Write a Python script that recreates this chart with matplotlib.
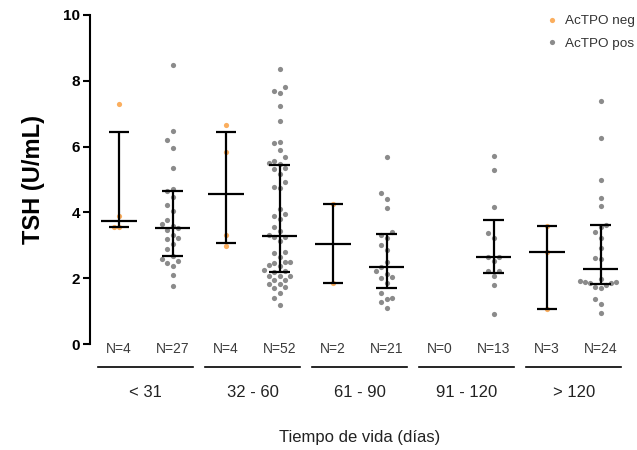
import numpy as np
import matplotlib
matplotlib.use("Agg")
import matplotlib.pyplot as plt
from matplotlib.lines import Line2D

plt.rcParams['font.family'] = ['Liberation Sans', 'DejaVu Sans']

# ---- data -----------------------------------------------------------------
age_groups = ["< 31", "32 - 60", "61 - 90", "91 - 120", "> 120"]
series_labels = ["AcTPO neg", "AcTPO pos"]

tsh_neg = [
    [7.30, 3.90, 3.55, 3.55],
    [6.65, 5.83, 3.30, 2.98],
    [4.25, 1.84],
    [],
    [3.59, 2.79, 1.07],
]

tsh_pos = [
    [8.48, 6.46, 6.20, 5.97, 5.36, 4.72, 4.66, 4.47, 4.21, 4.04, 3.77, 3.64,
     3.60, 3.53, 3.45, 3.31, 3.23, 3.20, 3.05, 2.89, 2.66, 2.58, 2.52, 2.46,
     2.38, 2.10, 1.75],
    [8.35, 7.80, 7.70, 7.62, 7.24, 6.78, 6.15, 6.12, 5.90, 5.69, 5.56, 5.49,
     5.47, 5.35, 5.31, 5.16, 4.91, 4.77, 4.73, 4.10, 3.94, 3.90, 3.80, 3.57,
     3.43, 3.30, 3.26, 3.24, 3.13, 2.80, 2.78, 2.65, 2.50, 2.48, 2.46, 2.39,
     2.37, 2.25, 2.22, 2.18, 2.08, 2.07, 2.06, 1.96, 1.94, 1.83, 1.81, 1.72,
     1.70, 1.54, 1.40, 1.19],
    [5.67, 4.58, 4.42, 4.12, 3.40, 3.30, 3.22, 3.00, 2.86, 2.50, 2.33, 2.22,
     2.12, 2.03, 2.00, 1.85, 1.55, 1.40, 1.36, 1.28, 1.08],
    [5.72, 5.28, 4.17, 3.38, 3.21, 2.65, 2.65, 2.53, 2.23, 2.23, 2.08, 1.79,
     0.90],
    [7.39, 6.27, 5.00, 4.43, 4.19, 3.62, 3.55, 3.41, 3.22, 2.93, 2.62, 2.58,
     1.97, 1.92, 1.89, 1.88, 1.86, 1.84, 1.80, 1.74, 1.70, 1.36, 1.22, 0.95],
]

color_neg = "#FBA54C"
color_pos = "#7F7F7F"

# ---- figure ---------------------------------------------------------------
W, H, DPI = 637, 450, 100
fig = plt.figure(figsize=(W / DPI, H / DPI), dpi=DPI)
ax = fig.add_axes([90 / W, 106 / H, 540 / W, 329 / H])
ax.set_xlim(-0.542, 9.55)
ax.set_ylim(0, 10)

for side in ("top", "right", "bottom"):
    ax.spines[side].set_visible(False)
ax.spines["left"].set_linewidth(1.5)
ax.set_xticks([])
ax.set_yticks(np.arange(0, 11, 2))
ax.tick_params(axis="y", length=5, width=1.5, labelsize=11, pad=2)
for lab in ax.get_yticklabels():
    lab.set_fontweight("bold")
ax.set_ylabel("TSH (U/mL)", fontsize=17, fontweight="bold")
ax.yaxis.set_label_coords(-0.083, 0.5)

MARKER_D = 5.2  # marker diameter in pixels


def swarm_offsets(x_center, values, d=MARKER_D):
    """Greedy scatter spreading in display space; returns x offsets in data units."""
    if len(values) == 0:
        return np.array([])
    pts = ax.transData.transform(np.column_stack([np.full(len(values), x_center), values]))
    ypx = pts[:, 1]
    step = d / 2.0
    reach_y = 1.5 * d
    placed = []
    offs_px = np.zeros(len(values))
    for i in np.argsort(ypx):
        y = ypx[i]
        k = 0
        while True:
            cands = [0.0] if k == 0 else [k * step, -k * step]
            if k % 2 == 0 and k > 0:
                cands = cands[::-1]
            done = False
            for c in cands:
                if all(abs(c - px) >= 0.98 * d or abs(y - py) >= reach_y for px, py in placed):
                    offs_px[i] = c
                    placed.append((c, y))
                    done = True
                    break
            if done:
                break
            k += 1
    x0 = ax.transData.transform((x_center, 0))[0]
    back = ax.transData.inverted()
    return np.array([back.transform((x0 + o, 0))[0] - x_center for o in offs_px])


def draw_summary(x, values):
    q1, med, q3 = np.percentile(values, [25, 50, 75], method="weibull")
    kw = dict(color="black", lw=1.6, zorder=4, solid_capstyle="butt")
    ax.plot([x, x], [q1, q3], **kw)
    ax.plot([x - 0.19, x + 0.19], [q1, q1], **kw)
    ax.plot([x - 0.19, x + 0.19], [q3, q3], **kw)
    ax.plot([x - 0.33, x + 0.33], [med, med], **kw)


msize = (MARKER_D * 72 / DPI) ** 2
xtr = ax.get_xaxis_transform()

for g, label in enumerate(age_groups):
    for j, (vals, col) in enumerate(((tsh_neg[g], color_neg), (tsh_pos[g], color_pos))):
        x = 2 * g + j
        v = np.asarray(vals, dtype=float)
        if len(v):
            off = swarm_offsets(x, v)
            ax.scatter(x + off, v, s=msize, color=col, linewidths=0, alpha=0.9,
                       zorder=3, clip_on=False)
            draw_summary(x, v)
        ax.text(x, -0.016, f"N={len(v)}", transform=xtr, ha="center", va="center",
                fontsize=10, color="#3a3a3a")
    gc = 2 * g + 0.5
    ax.add_line(Line2D([gc - 0.885, gc + 0.885], [-0.07, -0.07], transform=xtr,
                       color="black", lw=1.2, clip_on=False))
    ax.text(gc, -0.146, label, transform=xtr, ha="center", va="center",
            fontsize=12, color="#222222")

ax.text(4.5, -0.283, "Tiempo de vida (días)", transform=xtr, ha="center",
        va="center", fontsize=12, color="#222222")

handles = [Line2D([], [], ls="", marker="o", markersize=MARKER_D * 72 / DPI,
                  markerfacecolor=c, markeredgewidth=0, alpha=0.9)
           for c in (color_neg, color_pos)]
fig.legend(handles, series_labels, loc="upper left",
           bbox_to_anchor=(547 / W, 1 - 15 / H), frameon=False, fontsize=9.7,
           handlelength=0.8, handletextpad=0.5, labelspacing=0.75,
           borderpad=0, borderaxespad=0, labelcolor="#333333")

fig.savefig("out.png", dpi=DPI)
